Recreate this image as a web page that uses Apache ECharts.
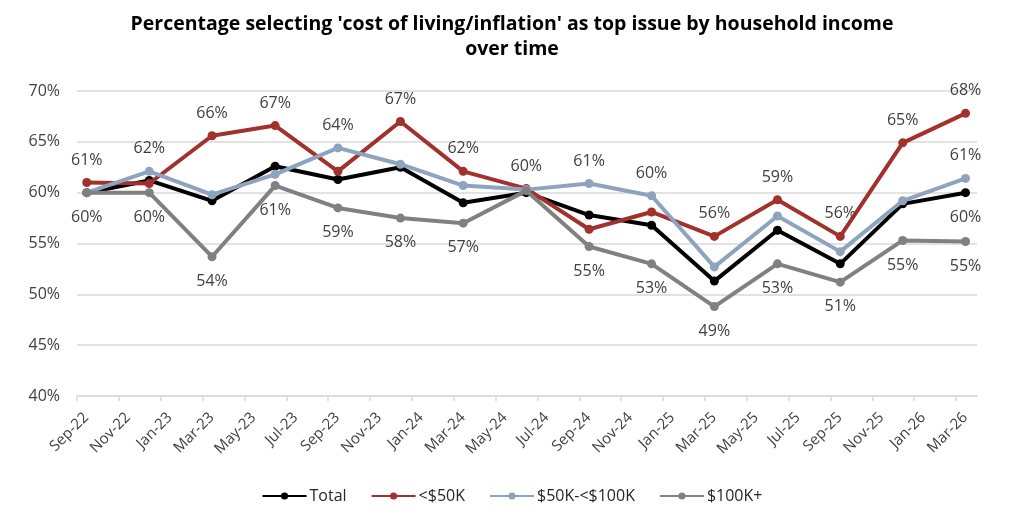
<!DOCTYPE html>
<html>
<head>
<meta charset="utf-8">
<script src="https://cdn.jsdelivr.net/npm/echarts@6/dist/echarts.min.js"></script>
<style>
html,body{margin:0;padding:0;background:#fff;}
#chart{width:1024px;height:530px;}
</style>
</head>
<body>
<div id="chart"></div>
<script>
// ---- Data ----
var surveyDates = ['2022-09-15','2022-12-15','2023-03-15','2023-06-15','2023-09-15','2023-12-15','2024-03-15','2024-06-15','2024-09-15','2024-12-15','2025-03-15','2025-06-15','2025-09-15','2025-12-15','2026-03-15'];
var xTickLabels = ['Sep-22','Nov-22','Jan-23','Mar-23','May-23','Jul-23','Sep-23','Nov-23','Jan-24','Mar-24','May-24','Jul-24','Sep-24','Nov-24','Jan-25','Mar-25','May-25','Jul-25','Sep-25','Nov-25','Jan-26','Mar-26'];
var seriesNames = ['Total','<$50K','$50K-<$100K','$100K+'];
var total    = [60.0, 61.2, 59.2, 62.6, 61.3, 62.5, 59.0, 60.0, 57.8, 56.8, 51.3, 56.3, 53.0, 58.9, 60.0];
var under50  = [61.0, 60.9, 65.6, 66.6, 62.1, 67.0, 62.1, 60.4, 56.4, 58.1, 55.7, 59.3, 55.7, 64.9, 67.8];
var mid50100 = [60.0, 62.1, 59.8, 61.8, 64.4, 62.8, 60.7, 60.3, 60.9, 59.7, 52.7, 57.7, 54.2, 59.2, 61.4];
var over100  = [60.0, 60.0, 53.7, 60.7, 58.5, 57.5, 57.0, 60.2, 54.7, 53.0, 48.8, 53.0, 51.2, 55.3, 55.2];
var yTicks = [40, 45, 50, 55, 60, 65, 70];

// ---- Helpers ----
var startY = 2022, startM = 9; // axis origin: Sep 2022
function monthOffset(s) {
  var p = s.split('-').map(Number);
  var dim = new Date(p[0], p[1], 0).getDate();
  return (p[0] - startY) * 12 + (p[1] - startM) + (p[2] - 1) / dim;
}
var xs = surveyDates.map(monthOffset);
var tickVals = xTickLabels.map(function (_, i) { return i * 2; });
var allSeries = [total, under50, mid50100, over100];
var colors = ['#000000', '#A2302C', '#8DA3BE', '#808080'];
var FONT = 'Open Sans';
var labelColor = '#404040';

// which series gets a label at each point: highest (above), lowest (below); last point: all
function labelInfo(si, i) {
  var vals = allSeries.map(function (a) { return a[i]; });
  var mx = Math.max.apply(null, vals), mn = Math.min.apply(null, vals);
  var iMax = vals.indexOf(mx);
  if (i === xs.length - 1) {
    return { show: true, pos: (si === 1 || si === 2) ? 'top' : 'bottom' };
  }
  if (si === iMax) return { show: true, pos: 'top' };
  if (mx - mn >= 0.75 && si === 3 && vals[3] === mn) return { show: true, pos: 'bottom' };
  return { show: false, pos: 'top' };
}

var series = allSeries.map(function (arr, si) {
  return {
    name: seriesNames[si],
    type: 'line',
    data: arr.map(function (v, i) {
      var li = labelInfo(si, i);
      return {
        value: [xs[i], v],
        label: {
          show: li.show,
          position: li.pos,
          distance: li.pos === 'top' ? 10 : 12
        }
      };
    }),
    symbol: 'circle',
    symbolSize: 9,
    lineStyle: { width: 4, color: colors[si] },
    itemStyle: { color: colors[si] },
    label: {
      fontFamily: FONT,
      fontSize: 16,
      color: labelColor,
      formatter: function (p) { return Math.round(p.value[1]) + '%'; }
    },
    emphasis: { disabled: true },
    z: 2 + si
  };
});

var chart = echarts.init(document.getElementById('chart'));
chart.setOption({
  animation: false,
  backgroundColor: '#ffffff',
  title: {
    text: "Percentage selecting 'cost of living/inflation' as top issue by household income\nover time",
    left: 'center',
    top: 7,
    textStyle: {
      fontFamily: FONT,
      fontWeight: 'bold',
      fontSize: 19.5,
      lineHeight: 25,
      color: '#000000'
    }
  },
  legend: {
    bottom: 21,
    left: 'center',
    itemWidth: 44,
    itemHeight: 9,
    itemGap: 24,
    textStyle: { fontFamily: FONT, fontSize: 16, color: '#262626', padding: [0, 0, 0, -2] },
    data: seriesNames
  },
  grid: { left: 77, right: 47, top: 91, bottom: 134 },
  xAxis: {
    type: 'value',
    min: 0,
    max: 43,
    interval: 2,
    splitLine: { show: false },
    axisLine: { show: true, lineStyle: { color: '#d9d9d9', width: 1.5 } },
    axisTick: { show: true, customValues: tickVals, length: 5, lineStyle: { color: '#d9d9d9', width: 1.5 } },
    axisLabel: {
      customValues: tickVals,
      showMinLabel: true,
      showMaxLabel: true,
      hideOverlap: false,
      rotate: 45,
      margin: 10,
      align: 'right',
      verticalAlign: 'top',
      lineHeight: 26,
      fontFamily: FONT,
      fontSize: 15,
      color: labelColor,
      formatter: function (v) { return xTickLabels[Math.round(v / 2)] || ''; }
    }
  },
  yAxis: {
    type: 'value',
    min: yTicks[0],
    max: yTicks[yTicks.length - 1],
    interval: 5,
    axisLine: { show: false },
    axisTick: { show: false },
    splitLine: { show: true, lineStyle: { color: '#d9d9d9', width: 1.5 } },
    axisLabel: {
      margin: 17,
      fontFamily: FONT,
      fontSize: 16,
      color: labelColor,
      formatter: function (v) { return v + '%'; }
    }
  },
  series: series
});
</script>
</body>
</html>
